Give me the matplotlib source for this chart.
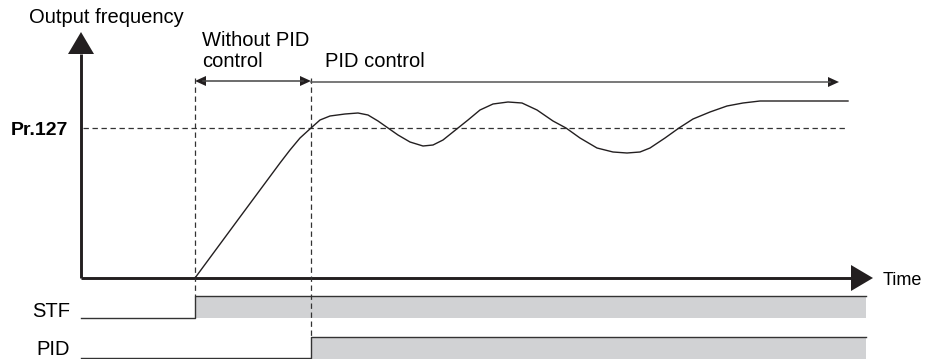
import matplotlib.pyplot as plt

plt.rcParams['font.family'] = ['Liberation Sans', 'DejaVu Sans']

# output frequency curve (time, frequency), in picture units
time = [195, 240, 280, 290, 300, 311, 320, 330, 345, 358, 368, 378, 388, 398,
        410, 423, 433, 443, 458, 468, 480, 493, 508, 522, 537, 553, 566, 580,
        597, 613, 627, 640, 650, 665, 679, 693, 710, 727, 743, 760, 848]
freq = [278, 217, 163, 150, 138, 128, 120, 116, 114, 113, 115, 121, 128, 135,
        142, 146, 145, 140, 128, 120, 110, 104, 102, 103, 110, 121, 128, 138,
        148, 152, 153, 152, 148, 138, 128, 119, 112, 106, 103, 101, 101]

pr127 = 128
t_start = 195
t_pid = 311
t_end = 866
axis_y = 278
axis_x = 81

# signal rows: name, low level, high level, switch-on time
signals = ['STF', 'PID']
sig_low = [318, 358]
sig_high = [296, 337]
sig_on = [t_start, t_pid]
sig_fill_bottom = [318, 359]

fig = plt.figure(figsize=(9.26, 3.59), dpi=100)
ax = fig.add_axes([0, 0, 1, 1])
ax.set_xlim(0, 926)
ax.set_ylim(359, 0)
ax.axis('off')

dark = '#231f20'
dash = (0, (4.3, 2.9))

# axes with arrow heads
ax.plot([axis_x, axis_x], [axis_y, 54], color=dark, lw=2.1, solid_capstyle='butt')
ax.plot([axis_x, 851], [axis_y, axis_y], color=dark, lw=2.1, solid_capstyle='butt')
ax.fill([68, 94, 81], [54, 54, 32], color=dark, lw=0)
ax.fill([851, 851, 873], [265, 291, 278], color=dark, lw=0)

# Pr.127 level and the two vertical markers
ax.plot([83, 848], [pr127, pr127], color='#333333', lw=0.9, linestyle=dash)
ax.plot([t_start, t_start], [78, sig_high[0]], color='#333333', lw=0.9, linestyle=dash)
ax.plot([t_pid, t_pid], [78, sig_high[1]], color='#333333', lw=0.9, linestyle=dash)

# span arrows
ax.plot([t_start + 8, t_pid - 8], [81, 81], color='#444444', lw=1.1)
ax.fill([t_start, t_start + 11, t_start + 11], [81, 76, 86], color=dark, lw=0)
ax.fill([t_pid, t_pid - 11, t_pid - 11], [81, 76, 86], color=dark, lw=0)
ax.plot([t_pid, 830], [82, 82], color='#555555', lw=1.1)
ax.fill([839, 828, 828], [82, 77, 87], color=dark, lw=0)

# frequency curve
ax.plot(time, freq, color=dark, lw=1.0, solid_joinstyle='round')

# signal rows
for lo, hi, on, bottom in zip(sig_low, sig_high, sig_on, sig_fill_bottom):
    ax.fill_between([on, t_end], [hi, hi], [bottom, bottom], color='#d1d2d4', lw=0)
    ax.plot([axis_x, on, on, t_end], [lo, lo, hi, hi], color='#333333', lw=1.0)

fs = 14.5
ax.text(29, 23, 'Output frequency', fontsize=fs, va='baseline', ha='left')
ax.text(202, 46, 'Without PID', fontsize=fs, va='baseline', ha='left')
ax.text(202, 67, 'control', fontsize=fs, va='baseline', ha='left')
ax.text(325, 67, 'PID control', fontsize=fs, va='baseline', ha='left')
ax.text(68, 135, 'Pr.127', fontsize=14, fontweight='bold', va='baseline', ha='right')
ax.text(70, 317, 'STF', fontsize=fs, va='baseline', ha='right')
ax.text(70, 355, 'PID', fontsize=fs, va='baseline', ha='right')
ax.text(883, 285, 'Time', fontsize=13, va='baseline', ha='left')

fig.savefig('out.png', dpi=100)
